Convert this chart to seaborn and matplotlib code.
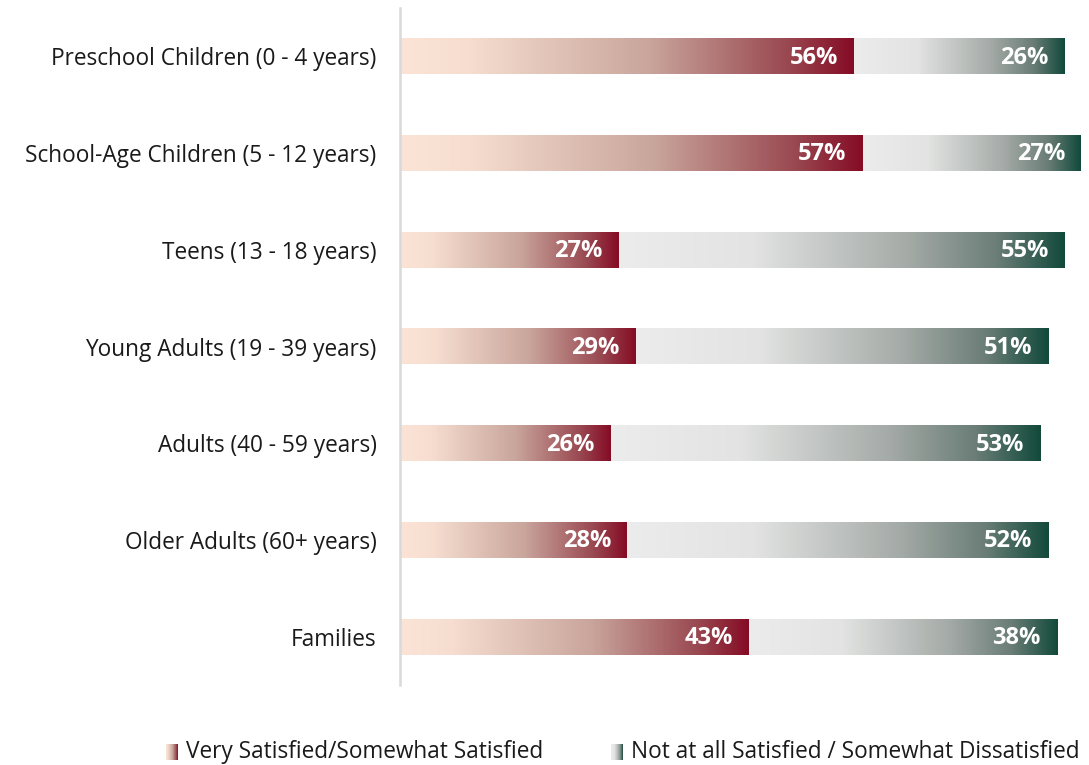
import numpy as np
import pandas as pd
import matplotlib
matplotlib.use("Agg")
import matplotlib.pyplot as plt
from matplotlib.colors import LinearSegmentedColormap
import seaborn as sns

groups = [
    "Preschool Children (0 - 4 years)",
    "School-Age Children (5 - 12 years)",
    "Teens (13 - 18 years)",
    "Young Adults (19 - 39 years)",
    "Adults (40 - 59 years)",
    "Older Adults (60+ years)",
    "Families",
]
satisfied = [56, 57, 27, 29, 26, 28, 43]
dissatisfied = [26, 27, 55, 51, 53, 52, 38]
legend_labels = ["Very Satisfied/Somewhat Satisfied",
                 "Not at all Satisfied / Somewhat Dissatisfied"]

sns.set_theme(style="white")
plt.rcParams["font.family"] = ["Open Sans", "DejaVu Sans"]

red_cmap = LinearSegmentedColormap.from_list(
    "sat", [(0.0, "#fbe4d6"), (0.15, "#f6ddd0"), (0.55, "#c9a59c"),
            (0.85, "#9a4a52"), (1.0, "#850c25")])
green_cmap = LinearSegmentedColormap.from_list(
    "dis", [(0.0, "#ececec"), (0.3, "#e2e3e2"), (0.65, "#a4aaa7"),
            (0.85, "#6a7d76"), (1.0, "#124a3b")])
ramp = np.linspace(0, 1, 256).reshape(1, -1)

df = pd.DataFrame({"group": groups,
                   "sat": satisfied,
                   "total": np.array(satisfied) + np.array(dissatisfied)})

W, H = 1089, 765
fig = plt.figure(figsize=(W / 100, H / 100), dpi=100)
ax = fig.add_axes([400 / W, 80 / H, (W - 400) / W, 677 / H])

sns.barplot(data=df, y="group", x="total", orient="h", ax=ax,
            width=0.37, color="white", linewidth=0, zorder=1)
n_total = len(ax.patches)
sns.barplot(data=df, y="group", x="sat", orient="h", ax=ax,
            width=0.37, color="white", linewidth=0, zorder=1)

patches = list(ax.patches)
for i, p in enumerate(patches):
    x0, y0 = p.get_x(), p.get_y()
    w, h = p.get_width(), p.get_height()
    if i < n_total:
        k = i
        start = satisfied[k]
        cmap = green_cmap
        val = dissatisfied[k]
    else:
        k = i - n_total
        start = 0
        cmap = red_cmap
        val = satisfied[k]
    end = x0 + w
    p.set_facecolor("none")
    ax.imshow(ramp, cmap=cmap, aspect="auto", interpolation="bilinear",
              extent=[start, end, y0 + h, y0], zorder=2)
    ax.annotate(f"{val}%", xy=(end, y0 + h / 2), xytext=(-11.5, -1),
                textcoords="offset points", ha="right", va="center",
                color="white", fontsize=17, fontweight="bold", zorder=3)

ax.set_xlim(0, 85)
ax.set_ylim(6.5, -0.5)
ax.set_xlabel("")
ax.set_ylabel("")
ax.set_xticks([])
ax.tick_params(axis="y", length=0, labelsize=16.3, labelcolor="#1a1a1a", pad=17)
for s in ["top", "right", "bottom"]:
    ax.spines[s].set_visible(False)
ax.spines["left"].set_color("#d9d9d9")
ax.spines["left"].set_linewidth(1.8)

# legend swatches with gradient fills
for (sx, label, cmap) in [(166, legend_labels[0], red_cmap),
                          (611, legend_labels[1], green_cmap)]:
    sw = fig.add_axes([sx / W, (H - 760) / H, 12 / W, 16 / H])
    sw.imshow(ramp, cmap=cmap, aspect="auto", interpolation="bilinear")
    sw.axis("off")
    fig.text((sx + 20) / W, (H - 752) / H, label, ha="left", va="center",
             fontsize=16.3, color="#1a1a1a")

fig.savefig("out.png", dpi=100)
